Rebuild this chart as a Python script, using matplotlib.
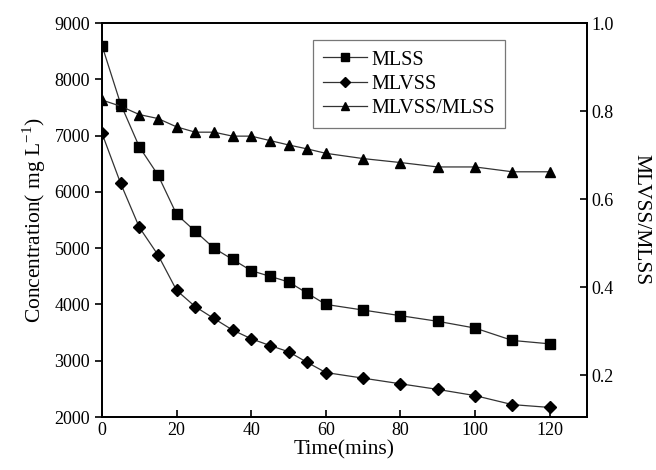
import numpy as np
import matplotlib
matplotlib.use('Agg')
import matplotlib.pyplot as plt

plt.rcParams['font.family'] = ['Liberation Serif', 'DejaVu Serif']
plt.rcParams['mathtext.fontset'] = 'custom'
plt.rcParams['mathtext.rm'] = 'Liberation Serif'

# data
t = [0, 5, 10, 15, 20, 25, 30, 35, 40, 45, 50, 55, 60, 70, 80, 90, 100, 110, 120]
mlss = [8600, 7560, 6800, 6300, 5600, 5300, 5000, 4800, 4600, 4500, 4400, 4200,
        4000, 3900, 3800, 3700, 3580, 3360, 3300]
mlvss = [7040, 6150, 5370, 4880, 4250, 3960, 3750, 3545, 3390, 3270, 3160, 2970,
         2790, 2690, 2590, 2490, 2380, 2220, 2170]
ratio = [0.825, 0.811, 0.792, 0.783, 0.764, 0.752, 0.752, 0.743, 0.743, 0.733,
         0.723, 0.714, 0.704, 0.692, 0.683, 0.673, 0.673, 0.662, 0.662]

fig = plt.figure(figsize=(6.56, 4.70), dpi=100)
ax = fig.add_axes([102/656, 53/470, 485/656, 394/470])
ax2 = ax.twinx()

lc = '#333333'
l1, = ax.plot(t, mlss, '-', color=lc, lw=0.9, marker='s', ms=6.5, mfc='black', mec='black', label='MLSS')
l2, = ax.plot(t, mlvss, '-', color=lc, lw=0.9, marker='D', ms=6.5, mfc='black', mec='black', label='MLVSS')
l3, = ax2.plot(t, ratio, '-', color=lc, lw=0.9, marker='^', ms=7.5, mfc='black', mec='black', label='MLVSS/MLSS')

ax.set_xlim(0, 130)
ax.set_ylim(2000, 9000)
ax2.set_ylim(0.105, 1.0)
ax.set_xticks([0, 20, 40, 60, 80, 100, 120])
ax.set_yticks(range(2000, 9001, 1000))
ax2.set_yticks([0.2, 0.4, 0.6, 0.8, 1.0])
ax2.set_yticklabels(['0.2', '0.4', '0.6', '0.8', '1.0'])

for a in (ax, ax2):
    a.tick_params(direction='in', length=5, width=1.2, labelsize=13)
    for s in a.spines.values():
        s.set_linewidth(1.3)
ax.tick_params(axis='y', direction='out', right=False)

ax.set_xlabel('Time(mins)', fontsize=15.5, labelpad=1)
ax.set_ylabel('Concentration( mg L$^{-1}$)', fontsize=15.5, labelpad=5)
ax2.set_ylabel('MLVSS/MLSS', fontsize=15.5, rotation=270, labelpad=26)

leg = ax.legend(handles=[l1, l2, l3], loc='upper left', bbox_to_anchor=(0.435, 0.956),
                fontsize=14.5, frameon=True, fancybox=False, edgecolor='#555555',
                handlelength=2.2, handletextpad=0.2, borderpad=0.5, labelspacing=0.25,
                markerscale=0.85, borderaxespad=0)
leg.get_frame().set_linewidth(0.9)

fig.savefig('out.png', dpi=100)
